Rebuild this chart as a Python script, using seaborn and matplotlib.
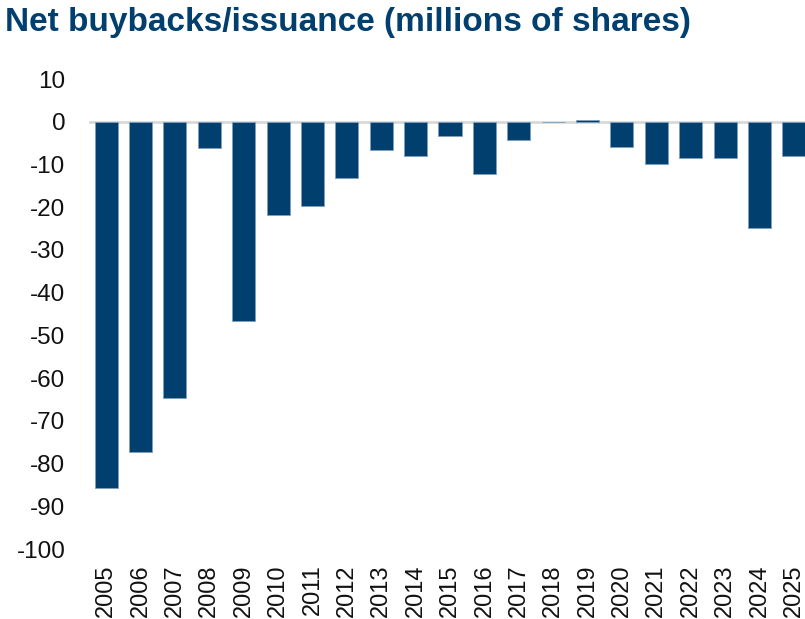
import matplotlib
matplotlib.use("Agg")
import matplotlib.pyplot as plt
import seaborn as sns
import pandas as pd

years = [str(y) for y in range(2005, 2026)]
values = [-85.7, -77.2, -64.6, -6.1, -46.7, -21.8, -19.7, -13.1, -6.6, -8.0,
          -3.3, -12.2, -4.3, -0.1, 0.35, -5.9, -9.9, -8.4, -8.6, -24.9, -8.1]
yticks = list(range(-100, 11, 10))

sns.set_style("white")
plt.rcParams['font.family'] = ['Liberation Sans', 'DejaVu Sans']

df = pd.DataFrame({"year": years, "value": values})

fig = plt.figure(figsize=(8.05, 6.19), dpi=100)
ax = fig.add_axes([89/805, 70/619, 722/805, 470/619])
sns.barplot(data=df, x="year", y="value", color="#003f6e", saturation=1,
            width=0.67, edgecolor="#7f9fbd", linewidth=0.6, ax=ax)
ax.axhline(0, color="#d9d9d9", linewidth=2, zorder=0.5)
ax.set_ylim(-100, 10)
ax.set_xlim(-0.5, len(years) - 0.5)
ax.set_yticks(yticks)
ax.set_yticklabels([str(t) for t in yticks], fontsize=17.5, color="#111111")
ax.tick_params(axis="y", length=0, pad=17)
ax.tick_params(axis="x", length=0, pad=11, labelrotation=90, labelsize=17, labelcolor="#111111")
for lbl in ax.get_xticklabels():
    lbl.set_verticalalignment("top")
ax.set_xlabel("")
ax.set_ylabel("")
for s in ax.spines.values():
    s.set_visible(False)

fig.text(5/805, 1 - 23/619, "Net buybacks/issuance (millions of shares)",
         fontsize=24, fontweight="bold", color="#003f6e", va="center", ha="left")

fig.savefig("out.png", dpi=100)
